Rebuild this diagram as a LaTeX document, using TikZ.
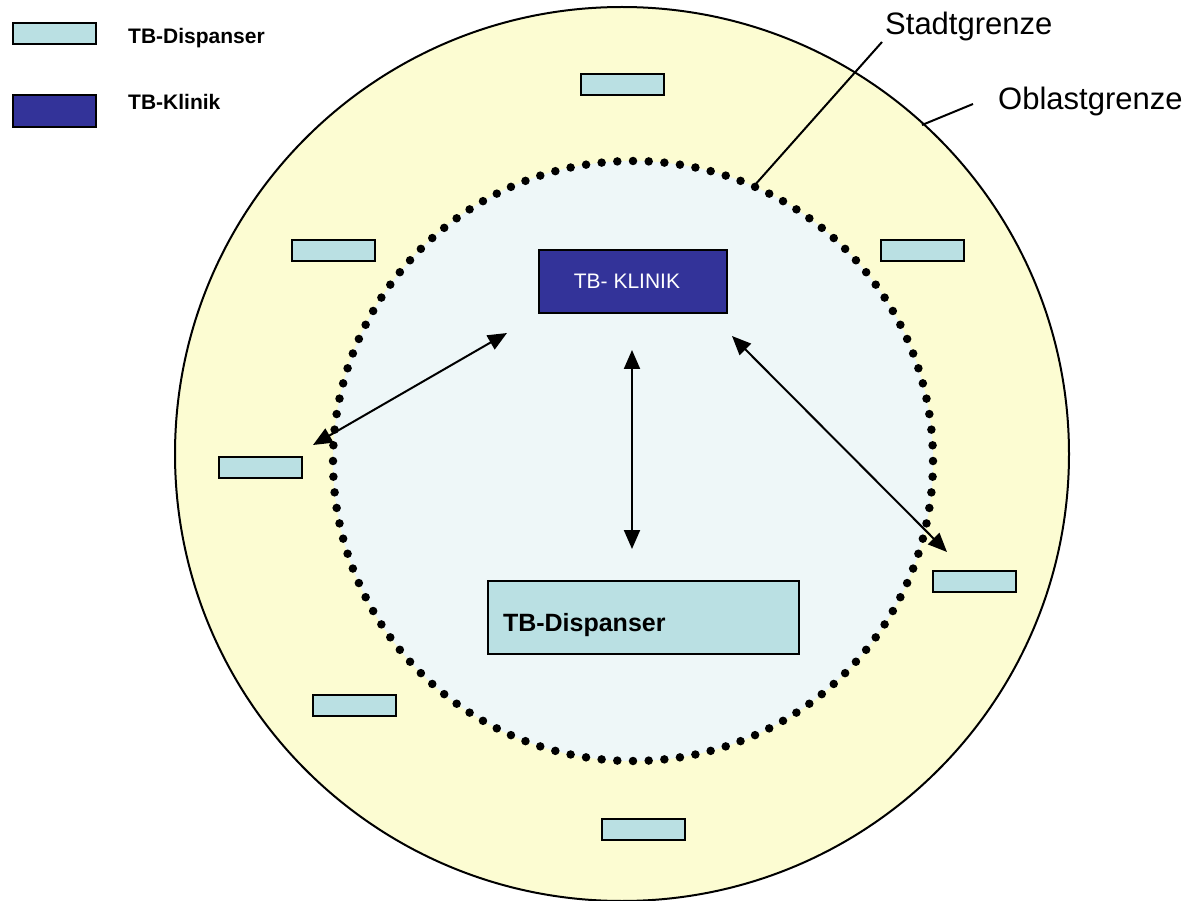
\documentclass[tikz,border=0pt]{standalone}
\usepackage{fontspec}
\setmainfont{Liberation Sans}
\usetikzlibrary{arrows.meta}
\definecolor{oblastfill}{RGB}{252,252,210}
\definecolor{stadtfill}{RGB}{238,247,248}
\definecolor{dispfill}{RGB}{186,224,227}
\definecolor{klinikfill}{RGB}{51,51,153}
\tikzset{
  dispbox/.style={draw, line width=2pt, fill=dispfill, minimum width=83pt, minimum height=21pt, inner sep=0pt, anchor=north west},
  klinikbox/.style={draw, line width=2pt, fill=klinikfill, text=white, minimum width=188pt, minimum height=63pt, inner sep=0pt, anchor=north west, font=\fontsize{21}{25}\selectfont},
  legendtext/.style={anchor=base west, inner sep=0pt, font=\fontsize{21}{25}\selectfont\bfseries},
  bordertext/.style={anchor=base west, inner sep=0pt, font=\fontsize{31}{37}\selectfont},
  link/.style={line width=2pt, {Triangle[length=19pt,width=16pt]}-{Triangle[length=19pt,width=16pt]}},
}
\begin{document}
\begin{tikzpicture}[x=1pt, y=-1pt]
\useasboundingbox (0,0) rectangle (1195,901);
% regions
\draw[line width=2pt, fill=oblastfill] (622,454) circle[radius=447pt];
\fill[stadtfill] (633,461) circle[radius=300pt];
\draw[line width=8.5pt, line cap=round, dash pattern=on 0pt off 15.71pt] (633,461) circle[radius=300pt];
% legend
\node[dispbox] (legdisp) at (12,22) {};
\node[dispbox, fill=klinikfill, minimum height=32pt] (legklinik) at (12,94) {};
\node[legendtext] (legdisptext) at (128,44) {TB-Dispanser};
\node[legendtext] (legklinitext) at (128,110) {TB-Klinik};
% boundary labels
\node[bordertext] (stadt) at (885,35) {Stadtgrenze};
\node[bordertext] (oblast) at (998,110) {Oblastgrenze};
\coordinate (stadtpin) at (754,186);
\coordinate (stadtend) at (882,42);
\coordinate (oblastpin) at (922,125);
\coordinate (oblastend) at (973,104);
\draw[line width=2pt] (stadtpin) -- (stadtend);
\draw[line width=2pt] (oblastpin) -- (oblastend);
% centre
\node[klinikbox] (klinik) at (538,249) {\hspace*{-12pt}TB- KLINIK};
\node[dispbox, minimum width=311pt, minimum height=73pt, text width=281pt, inner xsep=15pt, align=left, text height=34pt, text depth=6pt, font=\fontsize{25}{30}\selectfont\bfseries] (disp) at (487,580) {TB-Dispanser};
% dispensaries in the oblast
\node[dispbox] (dtop) at (580,73) {};
\node[dispbox] (dnw) at (291,239) {};
\node[dispbox] (dne) at (880,239) {};
\node[dispbox] (dw) at (218,456) {};
\node[dispbox] (de) at (932,570) {};
\node[dispbox] (dsw) at (312,694) {};
\node[dispbox] (dbot) at (601,818) {};
% links
\coordinate (lw) at (313,445);
\coordinate (lwk) at (507,333);
\coordinate (lk) at (632,350);
\coordinate (ld) at (632,549);
\coordinate (lek) at (732,336);
\coordinate (le) at (947,552);
\draw[link] (lw) -- (lwk);
\draw[link] (lk) -- (ld);
\draw[link] (lek) -- (le);
\end{tikzpicture}
\end{document}
